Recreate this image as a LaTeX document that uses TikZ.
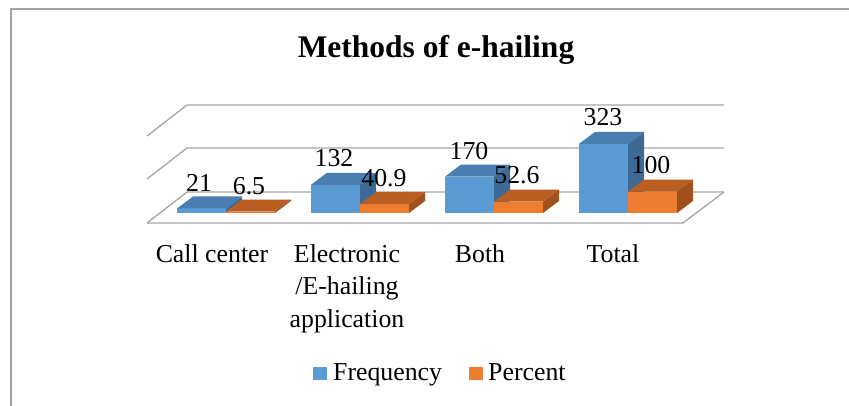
\documentclass[tikz,border=0pt]{standalone}
\usepackage{fontspec}
\setmainfont{Liberation Serif}
\definecolor{bluefront}{HTML}{5B9BD5}
\definecolor{bluetop}{HTML}{4A7DB0}
\definecolor{blueside}{HTML}{3C6A95}
\definecolor{orfront}{HTML}{ED7D31}
\definecolor{ortop}{HTML}{BA5E22}
\definecolor{orside}{HTML}{A0511C}
\definecolor{gridgray}{HTML}{A6A6A6}
\definecolor{framegray}{HTML}{A0A0A0}
\newcommand\drawbar[5]{%
  \fill[#3] (#1,213) rectangle ++(49,-#2);
  \fill[#4] (#1,213-#2) -- ++(16,-12) -- ++(49,0) -- ++(-16,12) -- cycle;
  \fill[#5] (#1+49,213) -- ++(0,-#2) -- ++(16,-12) -- ++(0,#2) -- cycle;
}
\tikzset{
  lbl/.style={inner sep=0pt, anchor=base, font=\fontsize{25.8}{32.5}\selectfont},
  gridln/.style={draw=gridgray, line width=1.3pt},
}
\begin{document}
\begin{tikzpicture}[x=1pt,y=-1pt]
\useasboundingbox (0,0) rectangle (849,406);
\fill[white] (0,0) rectangle (849,406);
\draw[framegray, line width=2pt] (10.5,406) -- (10.5,9) -- (849,9);
\node[inner sep=0pt, anchor=base, font=\bfseries\fontsize{31.5}{36}\selectfont] (title) at (436,58) {Methods of e-hailing};
% grid and floor
\foreach \yy in {192,148,105} \draw[gridln] (147,\yy+31) -- (187,\yy) -- (724,\yy);
\draw[gridln] (147,223) -- (683,223) -- (724,192);
% bars
\drawbar{177}{4.5}{bluefront}{bluetop}{blueside}
\drawbar{226}{1.4}{orfront}{ortop}{orside}
\drawbar{311}{28.2}{bluefront}{bluetop}{blueside}
\drawbar{360}{8.8}{orfront}{ortop}{orside}
\drawbar{445}{36.4}{bluefront}{bluetop}{blueside}
\drawbar{494}{11.3}{orfront}{ortop}{orside}
\drawbar{579}{69.1}{bluefront}{bluetop}{blueside}
\drawbar{628}{21.4}{orfront}{ortop}{orside}
% value labels
\node[lbl] (v1) at (199,192) {21};
\node[lbl] (v2) at (249,195) {6.5};
\node[lbl] (v3) at (334,167) {132};
\node[lbl] (v4) at (384,187) {40.9};
\node[lbl] (v5) at (469,160) {170};
\node[lbl] (v6) at (517,184) {52.6};
\node[lbl] (v7) at (603,126) {323};
\node[lbl] (v8) at (651,174) {100};
% category labels
\node[lbl] (c1) at (212,262) {Call center};
\node[lbl, align=center] (c2) at (347,327) {Electronic\\/E-hailing\\application};
\node[lbl] (c3) at (480,262) {Both};
\node[lbl] (c4) at (613,262) {Total};
% legend
\fill[bluefront] (313,367) rectangle (327,380);
\node[lbl, anchor=base west] (l1) at (333,380) {Frequency};
\fill[orfront] (469,367) rectangle (483,380);
\node[lbl, anchor=base west] (l2) at (488,380) {Percent};
\end{tikzpicture}
\end{document}
